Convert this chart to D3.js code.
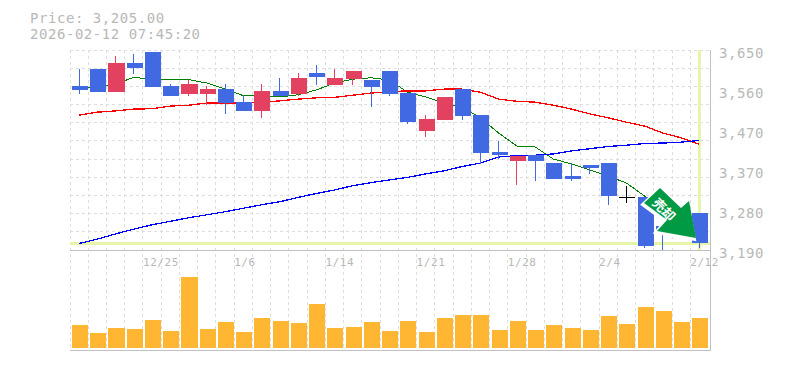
<!DOCTYPE html>
<html>
<head>
<meta charset="utf-8">
<script src="https://cdn.jsdelivr.net/npm/d3@7"></script>
<style>
    html, body { margin: 0; padding: 0; background: #fff; }
    svg { display: block; }
    text { font-family: "DejaVu Sans Mono", monospace; fill: #b8b8b8; }
</style>
</head>
<body>
<div id="chart"></div>
<script>
var dates = ["12/19","12/22","12/23","12/24","12/25","12/26","12/29","12/30","1/5","1/6","1/7","1/8","1/9","1/13","1/14","1/15","1/16","1/19","1/20","1/21","1/22","1/23","1/26","1/27","1/28","1/29","1/30","2/2","2/3","2/4","2/5","2/6","2/9","2/10","2/12"];
var opens = [3567,3606,3554,3620,3645,3567,3549,3549,3560,3530,3510,3556,3549,3597,3570,3583,3581,3602,3551,3464,3489,3560,3500,3415,3395,3408,3390,3360,3385,3390,3312,3312,3245,3270,3275];
var closes = [3558,3554,3620,3608,3565,3544,3572,3560,3528,3510,3556,3544,3586,3588,3586,3602,3565,3549,3484,3491,3542,3498,3413,3408,3406,3395,3353,3353,3379,3314,3312,3199,3231,3240,3205];
var highs = [3606,3606,3636,3641,3645,3572,3581,3567,3572,3547,3572,3586,3597,3615,3606,3602,3581,3602,3551,3500,3542,3560,3500,3441,3406,3408,3390,3390,3385,3390,3337,3312,3245,3275,3275];
var lows = [3549,3554,3554,3595,3565,3544,3544,3523,3503,3510,3494,3544,3544,3570,3570,3570,3519,3544,3480,3450,3489,3489,3388,3399,3340,3349,3353,3349,3365,3293,3298,3195,3190,3235,3195];
var maShort = [3563,3563,3572,3587,3583,3581,3582,3574,3560,3545,3544,3542,3547,3558,3574,3583,3586,3581,3553,3542,3528,3519,3494,3459,3429,3427,3399,3388,3374,3360,3344,3314,3287,3271,3245];
var maMid = [3500,3507,3510,3514,3515,3521,3523,3528,3528,3528,3530,3533,3537,3540,3541,3546,3551,3554,3556,3556,3560,3560,3553,3537,3532,3530,3523,3514,3503,3494,3484,3475,3459,3448,3433];
var maLong = [3205,3215,3227,3238,3248,3256,3264,3271,3278,3286,3294,3301,3311,3320,3328,3338,3345,3351,3357,3365,3372,3382,3390,3404,3407,3408,3411,3418,3423,3428,3431,3435,3436,3438,3442];
var volumes = [23,15,20,19,28,17,71,19,26,16,30,27,25,44,20,21,26,17,27,16,30,33,33,18,27,18,23,20,18,32,24,41,37,26,30];
var priceTicks = [3650,3560,3470,3370,3280,3190];
var dateTicks = ["12/25","1/6","1/14","1/21","1/28","2/4","2/12"];
var lastPrice = 3205;
var priceTitle = "Price: 3,205.00";
var timeTitle = "2026-02-12 07:45:20";
var signalText = "売却";

var width = 785,
    height = 370,
    plotLeft = 70,
    plotRight = 708.5,
    plotTop = 50,
    plotBottom = 250,
    volBottom = 348;

var svg = d3.select("#chart").append("svg")
    .attr("width", width)
    .attr("height", height);

var x = d3.scaleBand().domain(dates).range([plotLeft, plotRight]);
var y = d3.scaleLinear().domain([3190, 3650]).range([plotBottom, plotTop]);
var yVol = d3.scaleLinear().domain([0, 100]).range([volBottom, volBottom - 100]);
var mid = function(i) { return x(dates[i]) + x.bandwidth() / 2; };

// grid
var grid = svg.append("g").attr("stroke", "#ddd").attr("stroke-dasharray", "3,3").attr("shape-rendering", "crispEdges");
grid.selectAll("line.v").data(dates).enter().append("line")
    .attr("class", "v")
    .attr("x1", function(d) { return x(d); })
    .attr("x2", function(d) { return x(d); })
    .attr("y1", plotTop)
    .attr("y2", 350);
grid.selectAll("line.h").data(d3.range(0, 11)).enter().append("line")
    .attr("class", "h")
    .attr("x1", plotLeft)
    .attr("x2", 710)
    .attr("y1", function(d) { return plotTop + d * (plotBottom - plotTop) / 11; })
    .attr("y2", function(d) { return plotTop + d * (plotBottom - plotTop) / 11; });

// current price marker
svg.append("line").attr("x1", plotLeft).attr("x2", 710)
    .attr("y1", y(lastPrice)).attr("y2", y(lastPrice))
    .attr("stroke", "#e6f5a8").attr("stroke-width", 3);
svg.append("line").attr("x1", mid(34)).attr("x2", mid(34))
    .attr("y1", plotTop).attr("y2", plotBottom)
    .attr("stroke", "#e6f5a8").attr("stroke-width", 3);

// frame
var frame = svg.append("g").attr("stroke", "#c0c0c0").attr("shape-rendering", "crispEdges");
frame.append("line").attr("x1", plotLeft).attr("x2", 711).attr("y1", plotBottom).attr("y2", plotBottom);
frame.append("line").attr("x1", plotLeft).attr("x2", 711).attr("y1", 350).attr("y2", 350);
frame.append("line").attr("x1", 710.5).attr("x2", 710.5).attr("y1", plotTop).attr("y2", 350);

// moving averages
var line = d3.line().x(function(d, i) { return mid(i); }).y(function(d) { return y(d); });
[[maShort, "#008000", 1], [maMid, "#ff0000", 1.3], [maLong, "#0000ff", 1.3]].forEach(function(m) {
    svg.append("path").datum(m[0])
        .attr("d", line)
        .attr("fill", "none")
        .attr("stroke", m[1])
        .attr("stroke-width", m[2])
        .attr("shape-rendering", "crispEdges");
});

// candles
var color = function(i) {
    if (opens[i] === closes[i]) return "#000";
    return closes[i] > opens[i] ? "#e2425f" : "#4169e1";
};
var candles = svg.append("g").attr("shape-rendering", "crispEdges");
candles.selectAll("line").data(dates).enter().append("line")
    .attr("x1", function(d, i) { return mid(i); })
    .attr("x2", function(d, i) { return mid(i); })
    .attr("y1", function(d, i) { return y(highs[i]); })
    .attr("y2", function(d, i) { return y(lows[i]); })
    .attr("stroke", function(d, i) { return color(i); });
candles.selectAll("rect").data(dates).enter().append("rect")
    .attr("x", function(d) { return x(d) + 2; })
    .attr("width", x.bandwidth() - 2.2)
    .attr("y", function(d, i) { return y(Math.max(opens[i], closes[i])); })
    .attr("height", function(d, i) { return Math.max(1, Math.abs(y(opens[i]) - y(closes[i]))); })
    .attr("fill", function(d, i) { return color(i); });

// volume
svg.append("g").attr("shape-rendering", "crispEdges").selectAll("rect").data(volumes).enter().append("rect")
    .attr("x", function(d, i) { return x(dates[i]) + 2; })
    .attr("width", x.bandwidth() - 2.2)
    .attr("y", function(d) { return yVol(d); })
    .attr("height", function(d) { return yVol(0) - yVol(d); })
    .attr("fill", "#ffb733");

// labels
svg.append("text").attr("x", 30).attr("y", 23).attr("font-size", 14).attr("letter-spacing", 0.55).text(priceTitle);
svg.append("text").attr("x", 30).attr("y", 38.5).attr("font-size", 14).attr("letter-spacing", 0.55).text(timeTitle);

svg.selectAll("text.price").data(priceTicks).enter().append("text")
    .attr("class", "price")
    .attr("x", 719)
    .attr("y", function(d, i) { return 58 + i * 40; })
    .attr("font-size", 14)
    .attr("letter-spacing", 0.55)
    .text(d3.format(","));

svg.selectAll("text.date").data(dateTicks).enter().append("text")
    .attr("class", "date")
    .attr("x", function(d) { return x(d); })
    .attr("y", 266)
    .attr("font-size", 11)
    .attr("letter-spacing", 0.55)
    .text(function(d) { return d; });

// sell signal arrow
var arrow = "M660,188 L681,208 L689,201 L696,238 L657,231 L667,220 L644,203 Z";
svg.append("path").attr("d", arrow)
    .attr("transform", "translate(-1.5,1.5)")
    .attr("fill", "#fff")
    .attr("stroke", "#fff")
    .attr("stroke-width", 3);
svg.append("path").attr("d", arrow).attr("fill", "#009944");
svg.append("text")
    .attr("transform", "translate(664.5,209) rotate(45)")
    .attr("text-anchor", "middle")
    .attr("dominant-baseline", "central")
    .attr("font-size", 13)
    .attr("font-weight", "bold")
    .style("font-family", '"Noto Sans CJK JP"')
    .style("fill", "#fff")
    .text(signalText);
</script>
</body>
</html>
